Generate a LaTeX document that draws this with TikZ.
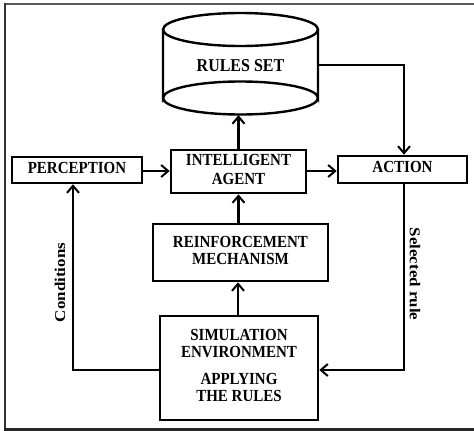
\documentclass[tikz,border=0pt]{standalone}
\usepackage{fontspec}
\setmainfont{Liberation Serif}
\usepackage{graphicx}
\usetikzlibrary{arrows.meta}
\newcommand\stxt[1]{\scalebox{1}[1.13]{\begin{tabular}{@{}c@{}}#1\end{tabular}}}
\tikzset{
  box/.style={draw, line width=2.6pt, inner sep=0pt, font=\fontsize{15}{15}\selectfont\bfseries},
  conn/.style={line width=2.3pt, -{Straight Barb[length=7pt,width=12pt,line width=2pt]}},
  lab/.style={font=\fontsize{15}{15}\selectfont\bfseries, inner sep=0pt},
}
\begin{document}
\begin{tikzpicture}[x=1pt,y=-1pt]
\useasboundingbox (0,0) rectangle (474,431);
% frame
\draw[line width=1.6pt, black!65] (5,4) -- (474,4);
\draw[line width=2pt, black!80] (5,3.2) -- (5,429);
\draw[line width=2.6pt, black!85] (4,429.5) -- (474,429.5);
% cylinder
\node[lab, minimum width=155pt, minimum height=102pt] (rules) at (240.5,64) {};
\draw[line width=2.4pt, fill=white] (163,29.5) -- (163,98) arc[start angle=180, end angle=360, x radius=77.5, y radius=16.5] -- (318,29.5);
\draw[line width=2.4pt] (240.5,29.5) ellipse[x radius=77.5, y radius=16.5];
\draw[line width=2.4pt] (163,98) arc[start angle=180, end angle=0, x radius=77.5, y radius=16.5];
\node[lab] (rulestext) at (240.5,66) {\scalebox{1}[1.13]{\fontsize{16}{16}\selectfont RULES SET}};
% boxes
\node[box, minimum width=130pt, minimum height=26pt] (perc) at (77,170) {\stxt{PERCEPTION}};
\node[box, minimum width=135pt, minimum height=43pt] (agent) at (238.5,171.5) {\stxt{INTELLIGENT\\[1.5pt] AGENT}};
\node[box, minimum width=129pt, minimum height=27pt] (action) at (402.5,169.5) {\stxt{ACTION}};
\node[box, minimum width=175pt, minimum height=57pt] (reinf) at (240.5,252.5) {\stxt{REINFORCEMENT\\[0pt] MECHANISM}};
\node[box, minimum width=158pt, minimum height=104pt] (sim) at (239,368) {\stxt{SIMULATION\\[0pt] ENVIRONMENT\\[9pt] APPLYING\\[0pt] THE RULES}};
% connectors
\coordinate (c1) at (404,65);
\coordinate (c2) at (73,370);
\coordinate (c3) at (404,370);
\draw[conn] (rules.east |- c1) -- (c1) -- (c1 |- action.north);
\draw[conn] (agent.north) -- (agent.north |- rules.south);
\draw[conn] (perc.east |- 0,171) -- (agent.west |- 0,171);
\draw[conn] (agent.east |- 0,171) -- (action.west |- 0,171);
\draw[conn] (reinf.north -| agent.north) -- (agent.south);
\draw[conn] ([xshift=-1pt]sim.north) -- ([xshift=-1pt]sim.north |- reinf.south);
\draw[conn] (sim.west |- c2) -- (c2) -- (c2 |- perc.south);
\draw[conn] (c3 |- action.south) -- (c3) -- (sim.east |- c3);
% labels
\node[lab, rotate=90] (cond) at (60,282.5) {\scalebox{1.13}[1]{Conditions}};
\node[lab, rotate=-90] (sel) at (415,274) {\scalebox{1.13}[1]{Selected rule}};
\end{tikzpicture}
\end{document}
